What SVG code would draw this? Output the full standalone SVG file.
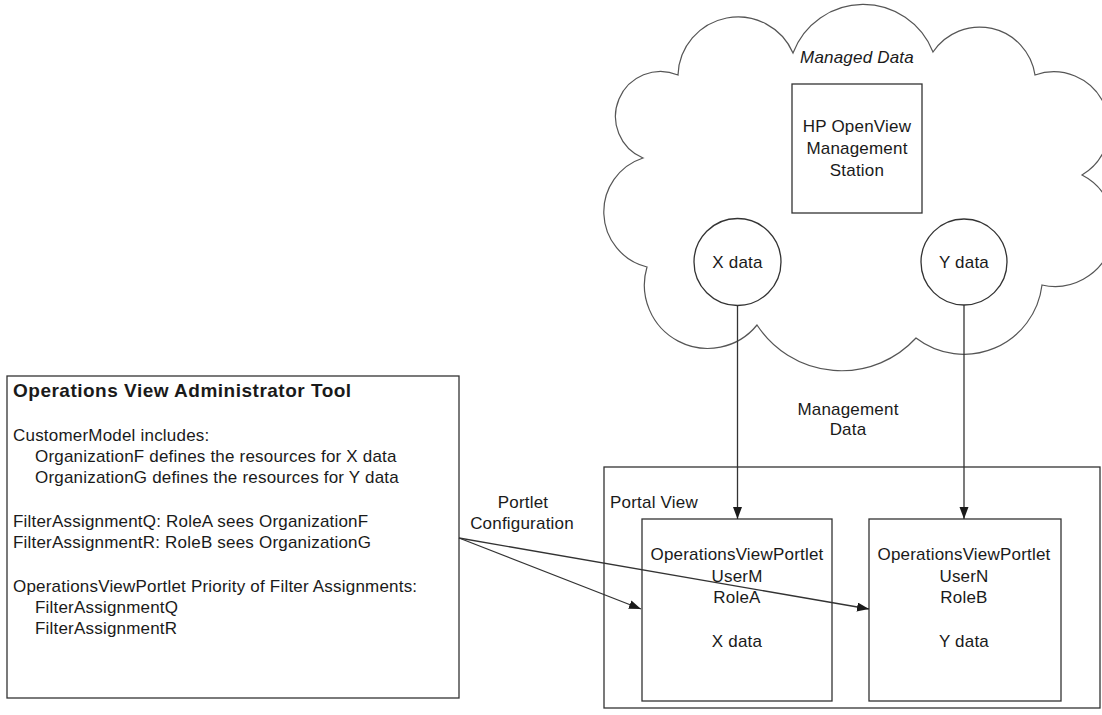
<svg xmlns="http://www.w3.org/2000/svg" width="1102" height="715" viewBox="0 0 1102 715">
<style>
text{font-family:"Liberation Sans",Arial,sans-serif;font-size:17px;fill:#1a1a1a;letter-spacing:0.2px}
.c{text-anchor:middle}
.b{font-weight:bold;font-size:19px;letter-spacing:0.5px}
.i{font-style:italic}
.box{fill:#fff;stroke:#333;stroke-width:1.3}
.ln{fill:none;stroke:#333;stroke-width:1.3}
.cl{fill:#fff;stroke:#555;stroke-width:1.2}
</style>
<defs>
<marker id="ah" markerWidth="13" markerHeight="10" refX="12" refY="4.5" orient="auto" markerUnits="userSpaceOnUse">
<path d="M0,0 L12,4.5 L0,9 z" fill="#1a1a1a"/>
</marker>
</defs>
<g id="cloud">
<path class="cl" d="M678 75 A60 60 0 0 1 793 53 A75 75 0 0 1 933 52 A56 56 0 0 1 1035 75 A55.5 55.5 0 0 1 1082 175 A59 59 0 0 1 1042 285 A78.6 78.6 0 0 1 916 338 A101 101 0 0 1 757 325 A63.4 63.4 0 0 1 647 267 A56.7 56.7 0 0 1 643 158 A45 45 0 0 1 678 75 Z"/>
<text class="c i" x="857" y="63">Managed Data</text>
</g>
<g id="hp-station">
<rect class="box" x="792" y="84" width="130" height="129"/>
<text class="c" x="857" y="132">HP OpenView</text>
<text class="c" x="857" y="154">Management</text>
<text class="c" x="857" y="176">Station</text>
</g>
<g id="x-data">
<circle class="box" cx="737.5" cy="262" r="43.5"/>
<text class="c" x="737.5" y="268">X data</text>
</g>
<g id="y-data">
<circle class="box" cx="964" cy="262" r="43"/>
<text class="c" x="964" y="268">Y data</text>
</g>
<g id="admin-tool">
<rect class="box" x="7" y="376" width="452" height="322"/>
<text class="b" x="13" y="397">Operations View Administrator Tool</text>
<text x="13" y="441">CustomerModel includes:</text>
<text x="35" y="462">OrganizationF defines the resources for X data</text>
<text x="35" y="483">OrganizationG defines the resources for Y data</text>
<text x="13" y="527">FilterAssignmentQ: RoleA sees OrganizationF</text>
<text x="13" y="548">FilterAssignmentR: RoleB sees OrganizationG</text>
<text x="13" y="592">OperationsViewPortlet Priority of Filter Assignments:</text>
<text x="35" y="613">FilterAssignmentQ</text>
<text x="35" y="634">FilterAssignmentR</text>
</g>
<g id="portal-view">
<rect class="box" x="604" y="467" width="496" height="241"/>
<text x="610" y="508">Portal View</text>
</g>
<g id="portlet-m">
<rect class="box" x="642" y="519" width="190" height="182"/>
<text class="c" x="737" y="560">OperationsViewPortlet</text>
<text class="c" x="737" y="582">UserM</text>
<text class="c" x="737" y="603">RoleA</text>
<text class="c" x="737" y="647">X data</text>
</g>
<g id="portlet-n">
<rect class="box" x="869" y="519" width="192" height="182"/>
<text class="c" x="964" y="560">OperationsViewPortlet</text>
<text class="c" x="964" y="582">UserN</text>
<text class="c" x="964" y="603">RoleB</text>
<text class="c" x="964" y="647">Y data</text>
</g>
<g id="connectors">
<line class="ln" x1="737.5" y1="305.5" x2="737.5" y2="519" marker-end="url(#ah)"/>
<line class="ln" x1="964" y1="305" x2="964" y2="519" marker-end="url(#ah)"/>
<line class="ln" x1="459" y1="538" x2="641" y2="609" marker-end="url(#ah)"/>
<line class="ln" x1="459" y1="538" x2="869" y2="609" marker-end="url(#ah)"/>
<text class="c" x="848" y="415">Management</text>
<text class="c" x="848" y="435">Data</text>
<text class="c" x="523" y="508">Portlet</text>
<text class="c" x="522" y="529">Configuration</text>
</g>
</svg>
